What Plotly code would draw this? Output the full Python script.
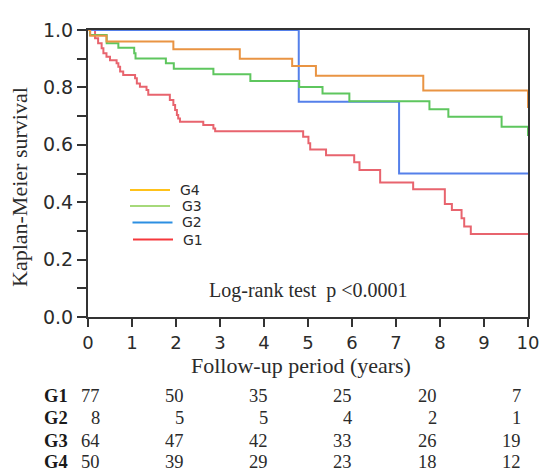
import plotly.graph_objects as go

# ---- data ----
g1_t = [0, 0.16, 0.23, 0.31, 0.35, 0.42, 0.50, 0.65, 0.69, 0.73, 0.80, 1.07, 1.11, 1.18, 1.33, 1.37,
        1.86, 1.94, 1.98, 2.02, 2.05, 2.09, 2.62, 2.85, 2.89, 4.89, 5.01, 5.05, 5.41, 6.05, 6.17,
        6.64, 7.39, 8.11, 8.27, 8.49, 8.55, 8.70, 10]
g1_s = [1, 0.971, 0.954, 0.936, 0.919, 0.907, 0.895, 0.884, 0.872, 0.855, 0.843, 0.832, 0.814, 0.802,
        0.791, 0.774, 0.756, 0.739, 0.721, 0.704, 0.692, 0.680, 0.669, 0.657, 0.647, 0.628, 0.605,
        0.584, 0.564, 0.539, 0.512, 0.469, 0.445, 0.394, 0.373, 0.344, 0.315, 0.289, 0.289]

g2_t = [0, 4.79, 7.07, 10]
g2_s = [1, 0.75, 0.50, 0.50]

g3_t = [0, 0.045, 0.425, 0.69, 1.05, 1.08, 1.77, 1.95, 2.85, 3.69, 4.80, 5.33, 5.94, 7.76, 8.19,
        9.40, 10]
g3_s = [1, 0.983, 0.954, 0.938, 0.919, 0.901, 0.884, 0.865, 0.846, 0.822, 0.801, 0.779, 0.752,
        0.724, 0.698, 0.663, 0.631]

g4_t = [0, 0.05, 0.42, 1.94, 3.45, 4.64, 5.18, 7.62, 10]
g4_s = [1, 0.98, 0.96, 0.933, 0.90, 0.875, 0.841, 0.789, 0.728]

groups = ["G1", "G2", "G3", "G4"]
line_colors = ["#E8646E", "#5580EA", "#5EC65E", "#E99443"]
legend_colors = {"G4": "#FFC21A", "G3": "#A6D97A", "G2": "#2C8FE2", "G1": "#F5383C"}
legend_order = ["G4", "G3", "G2", "G1"]

risk_times = [0, 2, 4, 6, 8, 10]
risk_counts = {
    "G1": [77, 50, 35, 25, 20, 7],
    "G2": [8, 5, 5, 4, 2, 1],
    "G3": [64, 47, 42, 33, 26, 19],
    "G4": [50, 39, 29, 23, 18, 12],
}

y_ticks = [0.0, 0.2, 0.4, 0.6, 0.8, 1.0]
x_ticks = list(range(0, 11))

# ---- figure: page margin removed (see post_script), so figure fills the window ----
W, H = 542, 474
# plot area in screenshot pixels: x 88..528, y 30..317
L, T = 88, 30
R = W - 528
B = H - 317
pw, ph = W - L - R, H - T - B


def px_x(px):
    return (px - L) / pw


def px_y(py):
    return (H - B - py) / ph


fig = go.Figure()
series = [(g1_t, g1_s), (g2_t, g2_s), (g3_t, g3_s), (g4_t, g4_s)]
for name, (t, s), col in zip(groups, series, line_colors):
    fig.add_trace(go.Scatter(x=t, y=s, mode="lines", line=dict(color=col, width=2, shape="hv"),
                             name=name, showlegend=False, hoverinfo="skip"))

sans = "DejaVu Sans"
serif = "Liberation Serif"
txt = "#2b2b2b"

fig.update_layout(
    template="none",
    width=W, height=H,
    margin=dict(l=L, r=R, t=T, b=B, pad=0, autoexpand=False),
    paper_bgcolor="white", plot_bgcolor="white",
    showlegend=False,
    xaxis=dict(range=[0, 10], tickvals=x_ticks, ticks="outside", ticklen=8, tickwidth=1.6,
               tickcolor="#333", showline=True, linecolor="#333", linewidth=2, mirror=True,
               showgrid=False, zeroline=False, automargin=False,
               tickfont=dict(family=sans, size=18, color=txt)),
    yaxis=dict(range=[0, 1], tickvals=y_ticks, tickformat=".1f", ticks="outside", ticklen=9,
               tickwidth=1.6, tickcolor="#333", showline=True, linecolor="#333", linewidth=2,
               mirror=True, showgrid=False, zeroline=False, automargin=False,
               minor=dict(dtick=0.1, ticks="outside", ticklen=9, tickwidth=1.6, tickcolor="#333"),
               tickfont=dict(family=sans, size=19, color=txt)),
    xaxis2=dict(overlaying="x", anchor="y", range=[-0.325, 10.125], visible=False, automargin=False),
)

ann = []
# axis titles
ann.append(dict(text="Kaplan-Meier survival", xref="paper", yref="paper", x=px_x(20), y=px_y(187),
                xanchor="center", yanchor="middle", textangle=-90, showarrow=False,
                font=dict(family=serif, size=22, color=txt)))
ann.append(dict(text="Follow-up period (years)", xref="paper", yref="paper", x=px_x(301), y=px_y(365),
                xanchor="center", yanchor="middle", showarrow=False,
                font=dict(family=serif, size=22, color=txt)))
# log-rank text
ann.append(dict(text="Log-rank test  p &lt;0.0001", xref="paper", yref="paper", x=px_x(207), y=px_y(290),
                xanchor="left", yanchor="middle", showarrow=False,
                font=dict(family=serif, size=20, color=txt)))

# legend (drawn manually)
leg_line_y = {"G4": 190, "G3": 206, "G2": 222.5, "G1": 239.5}
leg_line_x = {"G4": (130, 170), "G3": (130, 170), "G2": (132.5, 172.5), "G1": (133, 173)}
leg_text_x = {"G4": 178, "G3": 180, "G2": 180, "G1": 181}
shapes = []
for g in legend_order:
    x0, x1 = leg_line_x[g]
    yy = px_y(leg_line_y[g])
    shapes.append(dict(type="line", xref="paper", yref="paper", x0=px_x(x0), x1=px_x(x1), y0=yy, y1=yy,
                       line=dict(color=legend_colors[g], width=2.2)))
    ann.append(dict(text=g, xref="paper", yref="paper", x=px_x(leg_text_x[g]), y=yy,
                    xanchor="left", yanchor="middle", showarrow=False,
                    font=dict(family=sans, size=14, color=txt)))

# number-at-risk table
row_y = {"G1": 396, "G2": 418.5, "G3": 441, "G4": 462}
for g in groups:
    yy = px_y(row_y[g])
    ann.append(dict(text="<b>" + g + "</b>", xref="paper", yref="paper", x=px_x(42), y=yy,
                    xanchor="left", yanchor="middle", showarrow=False,
                    font=dict(family=serif, size=18.5, color="#1a1a1a")))
    for t, n in zip(risk_times, risk_counts[g]):
        ann.append(dict(text=str(n), xref="x2", yref="paper", x=t, y=yy, xanchor="right",
                        yanchor="middle", showarrow=False,
                        font=dict(family=serif, size=18.5, color=txt)))

fig.update_layout(annotations=ann, shapes=shapes)
fig.write_html(
    "out.html",
    config={"displayModeBar": False},
    post_script="document.body.style.margin='0';document.body.style.overflow='hidden';",
)
